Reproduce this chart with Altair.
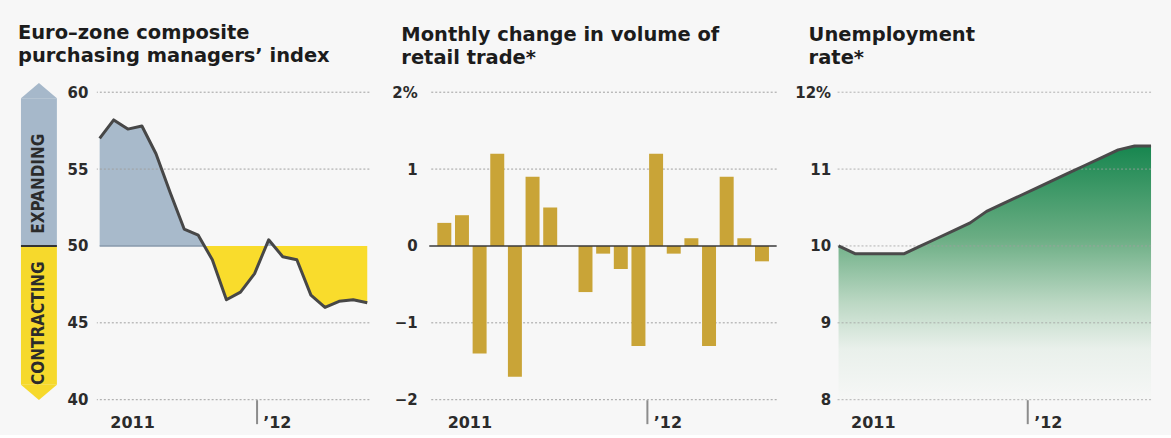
import altair as alt
import pandas as pd

# ---------------- data ----------------
pmi_month = list(range(20))  # Jan 2011 .. Aug 2012
pmi_value = [57.0, 58.2, 57.6, 57.8, 56.0, 53.5, 51.1, 50.7, 49.1, 46.5,
             47.0, 48.2, 50.4, 49.3, 49.1, 46.8, 46.0, 46.4, 46.5, 46.3]

retail_month = list(range(19))  # Jan 2011 .. Jul 2012
retail_value = [0.3, 0.4, -1.4, 1.2, -1.7, 0.9, 0.5, 0.0, -0.6, -0.1,
                -0.3, -1.3, 1.2, -0.1, 0.1, -1.3, 0.9, 0.1, -0.2]

unemp_month = list(range(20))  # Jan 2011 .. Aug 2012
unemp_value = [10.0, 9.9, 9.9, 9.9, 9.9, 10.0, 10.1, 10.2, 10.3, 10.45,
               10.55, 10.65, 10.75, 10.85, 10.95, 11.05, 11.15, 11.25, 11.3, 11.3]

pmi_ticks = [40, 45, 50, 55, 60]
pmi_grid = [40, 45, 55, 60]
retail_ticks = [-2, -1, 0, 1, 2]
retail_grid = [-2, -1, 1, 2]
unemp_ticks = [8, 9, 10, 11, 12]

year_labels = ["2011", "\u201912"]
pmi_year_pos = [0.3, 11.15]
retail_year_pos = [-0.18, 11.5]
unemp_year_pos = [0.37, 11.5]

zone_labels = ["EXPANDING", "CONTRACTING"]
zone_lo = [50, 40.97]
zone_hi = [59.6, 50]
zone_text_y = [54.05, 44.98]
zone_colors = ["#a6b8ca", "#f6d92c"]

# ---------------- styling ----------------
FONT = "DejaVu Sans"
TXT = "#2b2b2b"
GRID = "#a0a0a0"
LINE = "#474747"
H = 308


def x_enc(domain, pos, field="m"):
    return alt.X(
        f"{field}:Q",
        scale=alt.Scale(domain=domain, nice=False, zero=False),
        axis=alt.Axis(
            values=pos,
            labelExpr="datum.value < 5 ? '%s' : '%s'" % (year_labels[0], year_labels[1]),
            title=None, domain=False, grid=False,
            tickSize=24, tickWidth=2,
            tickColor={"condition": {"test": "datum.value > 5", "value": "#8c8c8c"},
                       "value": "rgba(0,0,0,0)"},
            labelAlign="left", labelBaseline="top", labelOffset=6, labelPadding=-9,
            labelFont=FONT, labelFontSize=16, labelFontWeight="bold", labelColor=TXT,
        ),
    )


def y_enc(field, domain, ticks, fmt_expr, pad):
    return alt.Y(
        f"{field}:Q",
        scale=alt.Scale(domain=domain, nice=False, zero=False),
        axis=alt.Axis(
            values=ticks, title=None, grid=False, domain=False, ticks=False,
            labelExpr=fmt_expr, labelPadding=pad,
            labelFont=FONT, labelFontSize=15, labelFontWeight="bold", labelColor=TXT,
        ),
    )


def title(lines, dx):
    return alt.TitleParams(
        text=lines, anchor="start", frame="group", dx=dx, offset=16.5,
        font=FONT, fontSize=19.5, fontWeight="bold", color="#1c1c1c", lineHeight=23,
    )


# ---------------- panel 1: PMI ----------------
pmi_df = pd.DataFrame({"m": pmi_month, "v": pmi_value})
# fill outline: original points plus the points where the line crosses 50
fill_rows = []
for i in range(len(pmi_value)):
    if i > 0:
        a, b = pmi_value[i - 1], pmi_value[i]
        if (a - 50) * (b - 50) < 0:
            t = (50 - a) / (b - a)
            fill_rows.append((pmi_month[i - 1] + t, 50.0))
    fill_rows.append((pmi_month[i], pmi_value[i]))
fill_df = pd.DataFrame(fill_rows, columns=["m", "v"])
fill_df["up"] = fill_df["v"].clip(lower=50)
fill_df["dn"] = fill_df["v"].clip(upper=50)

px = x_enc([-0.2, 19.15], pmi_year_pos)
pdom = [40, 60]
pfmt = "datum.value"

blue = alt.Chart(fill_df).mark_area(color="#a8bacb", opacity=1).encode(
    x=px, y=y_enc("up", pdom, pmi_ticks, pfmt, 9), y2=alt.datum(50))
yellow = alt.Chart(fill_df).mark_area(color="#f9dc2c", opacity=1).encode(
    x=px, y=y_enc("dn", pdom, pmi_ticks, pfmt, 9), y2=alt.datum(50))
base50 = alt.Chart(fill_df).mark_line(color="#8799ab", strokeWidth=1.5).encode(
    x=px, y=alt.datum(50)).transform_filter("datum.m <= 7.45")
pgrid = alt.Chart(pd.DataFrame({"g": pmi_grid})).mark_rule(
    color=GRID, strokeDash=[2, 2], strokeWidth=1).encode(
    y=y_enc("g", pdom, pmi_ticks, pfmt, 9))
pline = alt.Chart(pmi_df).mark_line(color=LINE, strokeWidth=3, strokeJoin="round").encode(
    x=px, y=y_enc("v", pdom, pmi_ticks, pfmt, 9))

zone_df = pd.DataFrame({"label": zone_labels, "lo": zone_lo, "hi": zone_hi,
                        "ty": zone_text_y, "c": zone_colors})
zrect = alt.Chart(zone_df).mark_rect().encode(
    x=alt.value(-76), x2=alt.value(-40),
    y=y_enc("lo", pdom, pmi_ticks, pfmt, 9), y2="hi:Q",
    color=alt.Color("c:N", scale=None))
ztop = alt.Chart(zone_df.iloc[[0]]).mark_point(
    shape="M-1,0L0,-0.85L1,0Z", size=1296, filled=True, opacity=1, strokeWidth=0).encode(
    x=alt.value(-58), y=y_enc("hi", pdom, pmi_ticks, pfmt, 9),
    color=alt.Color("c:N", scale=None))
zbot = alt.Chart(zone_df.iloc[[1]]).mark_point(
    shape="M-1,0L0,0.85L1,0Z", size=1296, filled=True, opacity=1, strokeWidth=0).encode(
    x=alt.value(-58), y=y_enc("lo", pdom, pmi_ticks, pfmt, 9),
    color=alt.Color("c:N", scale=None))
zsep = alt.Chart(zone_df.iloc[[0]]).mark_rule(color="#333333", strokeWidth=2).encode(
    x=alt.value(-76), x2=alt.value(-40), y=y_enc("lo", pdom, pmi_ticks, pfmt, 9))
ztext = alt.Chart(zone_df).mark_text(
    angle=270, font="DejaVu Sans Condensed", fontSize=17, fontWeight="bold",
    color=TXT, align="center", baseline="middle").encode(
    x=alt.value(-58), y=y_enc("ty", pdom, pmi_ticks, pfmt, 9), text="label:N")

left = alt.layer(blue, yellow, base50, pgrid, pline, zrect, ztop, zbot, zsep, ztext).properties(
    width=273, height=H,
    title=title(["Euro\u2013zone composite", "purchasing managers\u2019 index"], -79))

# ---------------- panel 2: retail ----------------
retail_df = pd.DataFrame({"m": retail_month, "v": retail_value})
rx = x_enc([-0.57, 18.55], retail_year_pos)
rdom = [-2, 2]
rfmt = "datum.value == 2 ? '2%' : datum.value == 0 ? '0' : format(datum.value, 'd')"
rgrid = alt.Chart(pd.DataFrame({"g": retail_grid})).mark_rule(
    color=GRID, strokeDash=[2, 2], strokeWidth=1).encode(
    y=y_enc("g", rdom, retail_ticks, rfmt, 12))
bars = alt.Chart(retail_df).mark_bar(size=14, color="#c9a437").encode(
    x=rx, y=y_enc("v", rdom, retail_ticks, rfmt, 12), y2=alt.datum(0))
zero = alt.Chart(pd.DataFrame({"g": [0]})).mark_rule(color="#3a3a3a", strokeWidth=1.5).encode(
    y=y_enc("g", rdom, retail_ticks, rfmt, 12))
mid = alt.layer(rgrid, bars, zero).properties(
    width=348, height=H,
    title=title(["Monthly change in volume of", "retail trade*"], -28))

# ---------------- panel 3: unemployment ----------------
unemp_df = pd.DataFrame({"m": unemp_month, "v": unemp_value})
ux = x_enc([-0.12, 19.0], unemp_year_pos)
udom = [8, 12]
ufmt = "datum.value == 12 ? '12%' : format(datum.value, 'd')"
grad = alt.Gradient(
    gradient="linear", x1=0, x2=0, y1=0, y2=1,
    stops=[alt.GradientStop(color="#17864f", offset=0),
           alt.GradientStop(color="#6aad83", offset=0.36),
           alt.GradientStop(color="#bcd8c4", offset=0.62),
           alt.GradientStop(color="#e9f0eb", offset=0.8),
           alt.GradientStop(color="#f6f7f6", offset=1)])
uarea = alt.Chart(unemp_df).mark_area(color=grad, opacity=1).encode(
    x=ux, y=y_enc("v", udom, unemp_ticks, ufmt, 6), y2=alt.datum(8))
ugrid = alt.Chart(pd.DataFrame({"g": unemp_ticks})).mark_rule(
    color=GRID, strokeDash=[2, 2], strokeWidth=1, opacity=0.8).encode(
    y=y_enc("g", udom, unemp_ticks, ufmt, 6))
uline = alt.Chart(unemp_df).mark_line(color="#4a4a4a", strokeWidth=3, strokeJoin="round").encode(
    x=ux, y=y_enc("v", udom, unemp_ticks, ufmt, 6))
right = alt.layer(uarea, ugrid, uline).properties(
    width=315, height=H,
    title=title(["Unemployment", "rate*"], -28))

chart = alt.hconcat(left, mid, right, spacing=60, bounds="flush").properties(
    background="#f7f7f7",
    padding={"left": 18, "top": 22, "right": 18, "bottom": 4},
).configure_view(stroke=None)

chart.save("out.html", embed_options={"renderer": "svg", "actions": False})
